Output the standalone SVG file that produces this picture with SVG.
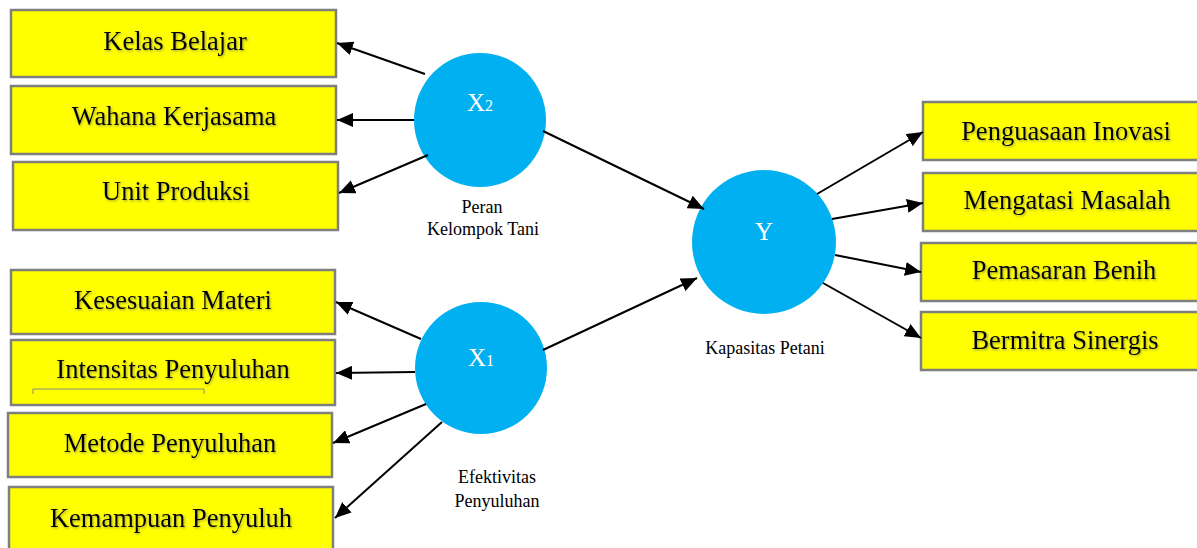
<svg xmlns="http://www.w3.org/2000/svg" width="1197" height="548" viewBox="0 0 1197 548">
<style>
.box{fill:#FFFF00;stroke:#7F7F7F;stroke-width:2.5}
.bt{font-family:"Liberation Serif","Times New Roman",serif;font-size:26.5px;fill:#000;text-anchor:middle;filter:url(#sh)}
.lv{fill:#00B0F0}
.lt{font-family:"Liberation Serif","Times New Roman",serif;fill:#fff;text-anchor:middle}
.cap{font-family:"Liberation Serif","Times New Roman",serif;font-size:18px;fill:#000;text-anchor:middle}
.con line{stroke:#000;stroke-width:2;marker-end:url(#ah)}
</style>
<defs>
<marker id="ah" markerUnits="userSpaceOnUse" markerWidth="16" markerHeight="14" refX="16" refY="7" orient="auto">
<path d="M0,0 L16,7 L0,14 z" fill="#000"/>
</marker>
<filter id="sh" x="-10%" y="-30%" width="120%" height="160%">
<feDropShadow dx="1" dy="1.2" stdDeviation="0.8" flood-color="#606060" flood-opacity="0.55"/>
</filter>
</defs>
<rect width="1197" height="548" fill="#fff"/>

<g id="kelas-belajar"><rect class="box" x="11" y="10" width="325" height="67"/><text class="bt" x="175" y="50">Kelas Belajar</text></g>
<g id="wahana-kerjasama"><rect class="box" x="11" y="86" width="325" height="68"/><text class="bt" x="174" y="125">Wahana Kerjasama</text></g>
<g id="unit-produksi"><rect class="box" x="13" y="162" width="325" height="68"/><text class="bt" x="176" y="200">Unit Produksi</text></g>

<g id="kesesuaian-materi"><rect class="box" x="11" y="270" width="324" height="64"/><text class="bt" x="173" y="309">Kesesuaian Materi</text></g>
<g id="intensitas-penyuluhan"><rect class="box" x="11" y="340" width="324" height="65"/><text class="bt" x="173" y="378">Intensitas Penyuluhan</text><path d="M33,394 V389 H204 V394" fill="none" stroke="#8a8a8a" stroke-width="1"/></g>
<g id="metode-penyuluhan"><rect class="box" x="8" y="413" width="324" height="64"/><text class="bt" x="170" y="452">Metode Penyuluhan</text></g>
<g id="kemampuan-penyuluh"><rect class="box" x="9" y="487" width="324" height="70"/><text class="bt" x="171" y="527">Kemampuan Penyuluh</text></g>

<g id="penguasaan-inovasi"><rect class="box" x="923" y="102" width="285" height="58"/><text class="bt" x="1066" y="140">Penguasaan Inovasi</text></g>
<g id="mengatasi-masalah"><rect class="box" x="923" y="173" width="285" height="58"/><text class="bt" x="1067" y="209">Mengatasi Masalah</text></g>
<g id="pemasaran-benih"><rect class="box" x="921" y="243" width="287" height="58"/><text class="bt" x="1064" y="279">Pemasaran Benih</text></g>
<g id="bermitra-sinergis"><rect class="box" x="921" y="312" width="287" height="58"/><text class="bt" x="1065" y="349">Bermitra Sinergis</text></g>

<g id="x2"><ellipse class="lv" cx="480" cy="120" rx="66" ry="67"/><text class="lt" x="480" y="111"><tspan font-size="25">X</tspan><tspan font-size="16">2</tspan></text><text class="cap" x="482" y="213">Peran</text><text class="cap" x="483" y="235">Kelompok Tani</text></g>
<g id="x1"><ellipse class="lv" cx="481" cy="368" rx="66" ry="66"/><text class="lt" x="481" y="366"><tspan font-size="25">X</tspan><tspan font-size="16">1</tspan></text><text class="cap" x="497" y="483">Efektivitas</text><text class="cap" x="497" y="507">Penyuluhan</text></g>
<g id="y"><ellipse class="lv" cx="764" cy="242" rx="72" ry="72"/><text class="lt" x="764" y="240" font-size="25">Y</text><text class="cap" x="765" y="354">Kapasitas Petani</text></g>

<g id="connectors" class="con">
<line x1="425" y1="74" x2="337" y2="43"/>
<line x1="414" y1="120" x2="337" y2="120"/>
<line x1="428" y1="155" x2="339" y2="193"/>
<line x1="543" y1="131" x2="704" y2="209"/>
<line x1="543" y1="350" x2="697" y2="278"/>
<line x1="421" y1="339" x2="336" y2="302"/>
<line x1="415" y1="372" x2="336" y2="373"/>
<line x1="426" y1="404" x2="333" y2="443"/>
<line x1="442" y1="422" x2="335" y2="518"/>
<line x1="817" y1="194" x2="923" y2="132"/>
<line x1="832" y1="219" x2="923" y2="203"/>
<line x1="835" y1="255" x2="921" y2="272"/>
<line x1="823" y1="283" x2="921" y2="338"/>
</g>
</svg>
